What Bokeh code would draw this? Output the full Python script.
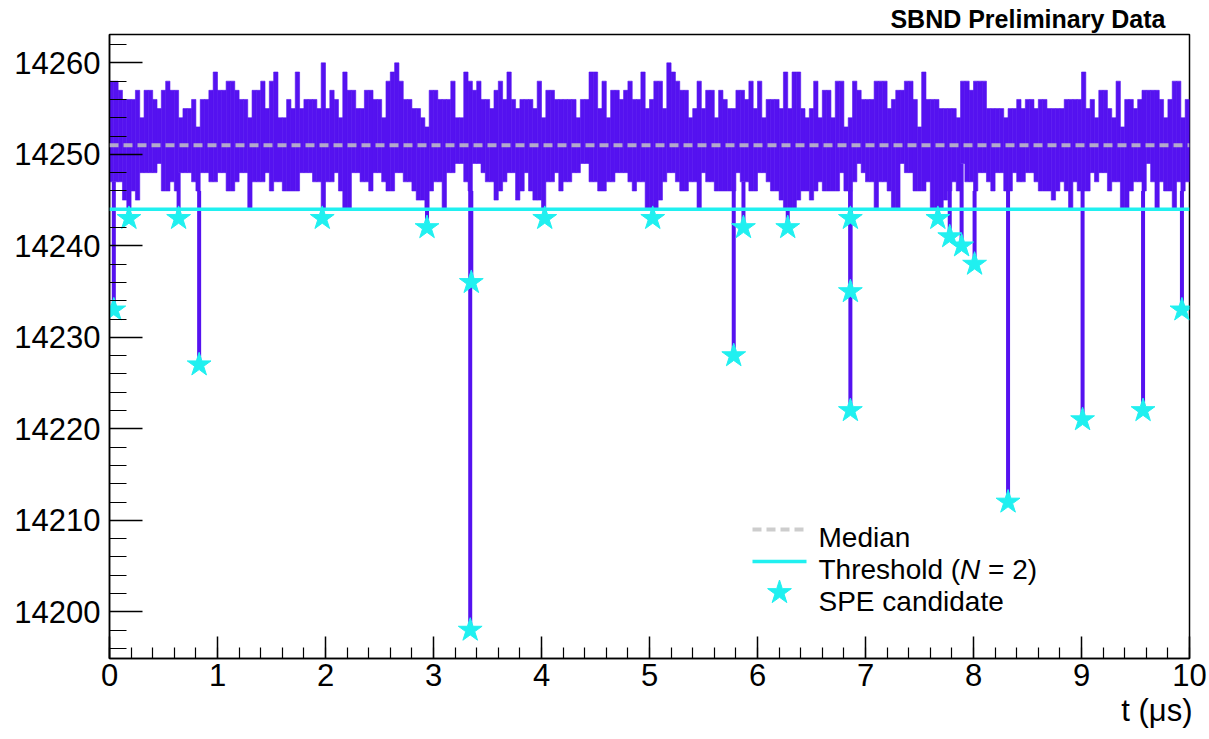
import numpy as np
from bokeh.plotting import figure
from bokeh.models import Range1d, SingleIntervalTicker, Span, Label, ColumnDataSource, Title
from bokeh.embed import file_html
from bokeh.resources import INLINE

# ---------------------------------------------------------------------------
# PMT waveform, 0-10 us, summarised as min/max ADC per 40 ns bin
# ---------------------------------------------------------------------------
BIN_WIDTH_US = 0.04

UPPER_ADC = [
    14258, 14258, 14257, 14256, 14256, 14256, 14257, 14254, 14257, 14257,
    14256, 14255, 14257, 14258, 14257, 14257, 14254, 14255, 14255, 14256,
    14253, 14256, 14256, 14257, 14259, 14257, 14257, 14258, 14258, 14257,
    14256, 14256, 14254, 14257, 14257, 14258, 14255, 14258, 14259, 14254,
    14254, 14256, 14255, 14259, 14255, 14256, 14256, 14256, 14255, 14260,
    14255, 14257, 14256, 14254, 14259, 14257, 14257, 14255, 14255, 14257,
    14257, 14256, 14256, 14254, 14258, 14259, 14260, 14258, 14256, 14256,
    14255, 14255, 14254, 14253, 14257, 14257, 14256, 14256, 14256, 14258,
    14254, 14254, 14259,
    14258, 14257, 14258, 14256, 14256, 14255, 14257,
    14258, 14256, 14259, 14256, 14255, 14256, 14256, 14256, 14255, 14258,
    14254, 14257, 14257, 14256, 14256, 14256, 14256, 14256, 14254, 14256,
    14256, 14259, 14259, 14255, 14258, 14254, 14257, 14257, 14256, 14257,
    14258, 14256, 14256, 14259, 14255, 14256, 14258, 14258, 14255, 14260,
    14259, 14258, 14257, 14257, 14254, 14255, 14258, 14255, 14257, 14257,
    14254, 14257, 14256, 14255, 14255, 14257, 14257, 14256, 14258, 14255,
    14258, 14254, 14256, 14256, 14256, 14255, 14259, 14255, 14259, 14259,
    14255, 14254, 14255, 14258, 14254, 14257, 14257,
    14254, 14258, 14258,
    14253, 14254, 14258, 14257, 14256, 14256, 14256, 14258, 14258, 14258,
    14255, 14256, 14257, 14257, 14258, 14258, 14256, 14253, 14259, 14256,
    14256, 14256, 14255, 14255, 14255, 14255, 14254, 14258, 14258, 14257,
    14258, 14258, 14258, 14255, 14255, 14255, 14255, 14254, 14255, 14255,
    14256, 14255, 14256, 14256, 14255, 14256, 14256, 14255, 14255, 14255,
    14255, 14256, 14256, 14256, 14256, 14259, 14255, 14256, 14254, 14257,
    14257, 14255, 14254, 14258, 14253, 14256, 14256, 14255, 14256, 14257,
    14257, 14257, 14257, 14256, 14254, 14256, 14258, 14258, 14254, 14256,
]

LOWER_ADC = [
    14247, 14247, 14247, 14245, 14244, 14246, 14245, 14248, 14248, 14248,
    14248, 14249, 14246, 14246, 14247, 14246, 14248, 14248, 14248, 14247,
    14246, 14248, 14248, 14247, 14247, 14248, 14248, 14246, 14246, 14247,
    14248, 14248, 14244, 14247, 14247, 14247, 14248, 14246, 14247, 14247,
    14246, 14246, 14246, 14246, 14248, 14248, 14248, 14247, 14247, 14244,
    14247, 14247, 14248, 14246, 14244, 14244, 14248, 14248, 14247, 14247,
    14246, 14248, 14248, 14247, 14246, 14246, 14248, 14248, 14247, 14247,
    14246, 14245, 14245, 14244, 14246, 14247, 14247, 14244, 14248, 14248,
    14249, 14249, 14247,
    14246, 14249, 14249, 14248, 14247, 14247, 14245,
    14246, 14247, 14248, 14248, 14245, 14246, 14248, 14246, 14245, 14245,
    14244, 14247, 14247, 14248, 14246, 14247, 14247, 14248, 14248, 14249,
    14249, 14247, 14247, 14246, 14246, 14247, 14247, 14248, 14248, 14248,
    14247, 14246, 14247, 14247, 14244, 14244, 14244, 14245, 14247, 14248,
    14248, 14247, 14246, 14246, 14247, 14247, 14244, 14248, 14247, 14247,
    14246, 14246, 14246, 14246, 14246, 14248, 14247, 14247, 14246, 14246,
    14248, 14248, 14247, 14246, 14246, 14245, 14244, 14244, 14244, 14245,
    14246, 14246, 14245, 14246, 14247, 14246, 14246,
    14246, 14246, 14248,
    14246, 14246, 14247, 14249, 14248, 14247, 14247, 14244, 14247, 14247,
    14246, 14244, 14244, 14249, 14248, 14248, 14246, 14246, 14246, 14247,
    14244, 14244, 14244, 14245, 14246, 14247, 14246, 14249, 14247, 14247,
    14246, 14248, 14248, 14247, 14246, 14248, 14248, 14246, 14246, 14248,
    14247, 14247, 14248, 14248, 14247, 14246, 14246, 14246, 14245, 14246,
    14247, 14246, 14244, 14247, 14246, 14246, 14246, 14248, 14247, 14248,
    14248, 14246, 14247, 14247, 14244, 14244, 14246, 14247, 14247, 14246,
    14249, 14247, 14244, 14247, 14246, 14246, 14244, 14247, 14246, 14247,
]

MEDIAN_ADC = 14251
THRESHOLD_ADC = 14244

# single-photoelectron candidates (time in us, ADC value)
SPE_T_US = [0.04, 0.18, 0.64, 0.83, 1.97, 2.94, 3.34, 3.35, 4.03, 5.03, 5.78, 5.87,
            6.28, 6.86, 6.86, 6.86, 7.67, 7.78, 7.89, 8.01, 8.32, 9.01, 9.57, 9.93]
SPE_ADC = [14233, 14243, 14243, 14227, 14243, 14242, 14198, 14236, 14243, 14243, 14228, 14242,
           14242, 14243, 14235, 14222, 14243, 14241, 14240, 14238, 14212, 14221, 14222, 14233]

X_RANGE = (0.0, 10.0)
Y_RANGE = (14194.9, 14263.1)

# ---------------------------------------------------------------------------
# styling
# ---------------------------------------------------------------------------
VIOLET = "#5512f0"
CYAN = "#20f0f0"
MEDIAN_GREY = "#c4c4c4"
FONT = "Liberation Sans"

W, H = 1209, 739
FRAME_L, FRAME_R, FRAME_T, FRAME_B = 109, 20, 34, 81
FRAME_W = W - FRAME_L - FRAME_R
FRAME_H = H - FRAME_T - FRAME_B


def px_x(px):
    return X_RANGE[0] + (px - FRAME_L) / FRAME_W * (X_RANGE[1] - X_RANGE[0])


def px_y(py):
    return Y_RANGE[1] - (py - FRAME_T) / FRAME_H * (Y_RANGE[1] - Y_RANGE[0])


p = figure(width=W, height=H, output_backend="svg", toolbar_location=None,
           x_range=Range1d(*X_RANGE), y_range=Range1d(*Y_RANGE),
           min_border_left=FRAME_L, min_border_right=FRAME_R,
           min_border_top=FRAME_T, min_border_bottom=FRAME_B)
p.background_fill_color = "white"
p.border_fill_color = "white"
p.outline_line_color = "black"
p.outline_line_width = 1.5
p.grid.visible = False

# waveform band
upper = np.array(UPPER_ADC, dtype=float)
lower = np.array(LOWER_ADC, dtype=float)
t_left = BIN_WIDTH_US * np.arange(len(upper))
band = ColumnDataSource(dict(left=t_left, right=t_left + BIN_WIDTH_US, bottom=lower, top=upper))
p.quad(left="left", right="right", bottom="bottom", top="top", source=band,
       fill_color=VIOLET, line_color=VIOLET, line_width=0.6)

# downward pulses reaching each candidate
spe_t = np.array(SPE_T_US)
spe_v = np.array(SPE_ADC, dtype=float)
idx = np.clip((spe_t / BIN_WIDTH_US).astype(int), 0, len(lower) - 1)
p.segment(x0=spe_t, y0=lower[idx], x1=spe_t, y1=spe_v, line_color=VIOLET, line_width=4)

# median and threshold
p.add_layout(Span(location=MEDIAN_ADC, dimension="width", line_color=MEDIAN_GREY,
                  line_alpha=0.85, line_width=4, line_dash="9 5"))
p.add_layout(Span(location=THRESHOLD_ADC, dimension="width", line_color=CYAN,
                  line_width=3.5))

p.scatter(spe_t, spe_v, marker="star", size=25, fill_color=CYAN, line_color=CYAN)

# axes (ticks inside the frame)
xa = p.xaxis[0]
xa.ticker = SingleIntervalTicker(interval=1, num_minor_ticks=5)
xa.axis_line_width = 1.5
xa.major_tick_in, xa.major_tick_out = 22, 0
xa.minor_tick_in, xa.minor_tick_out = 11, 0
xa.major_tick_line_width = 1.5
xa.minor_tick_line_width = 1.2
xa.major_label_text_font = FONT
xa.major_label_text_font_size = "31px"
xa.major_label_text_color = "black"
xa.major_label_standoff = 5

ya = p.yaxis[0]
ya.ticker = SingleIntervalTicker(interval=10, num_minor_ticks=5)
ya.axis_line_width = 1.5
ya.major_tick_in, ya.major_tick_out = 33, 0
ya.minor_tick_in, ya.minor_tick_out = 17, 0
ya.major_tick_line_width = 1.5
ya.minor_tick_line_width = 1.2
ya.major_label_text_font = FONT
ya.major_label_text_font_size = "31px"
ya.major_label_text_color = "black"
ya.major_label_standoff = 9

# header above the frame, right aligned (offset counts inward from the frame's right edge)
p.add_layout(Title(text="SBND Preliminary Data", align="right", offset=24, standoff=3,
                   text_font=FONT, text_font_size="25px", text_font_style="bold",
                   text_color="black"), "above")

# x axis title below the tick labels, right aligned
p.add_layout(Title(text="t (μs)", align="right", offset=-3, standoff=4,
                   text_font=FONT, text_font_size="31px", text_font_style="normal",
                   text_color="black"), "below")

# legend
KEY_X0, KEY_X1, TEXT_X = 752, 806, 818
ROW_KEY_Y = [529, 561, 592]
ROW_BASE_Y = [537, 569, 601]
LEG_FS = 28

p.segment(x0=[px_x(KEY_X0)], y0=[px_y(ROW_KEY_Y[0])], x1=[px_x(KEY_X1)], y1=[px_y(ROW_KEY_Y[0])],
          line_color=MEDIAN_GREY, line_alpha=0.85, line_width=4, line_dash="9 5")
p.segment(x0=[px_x(KEY_X0)], y0=[px_y(ROW_KEY_Y[1])], x1=[px_x(KEY_X1)], y1=[px_y(ROW_KEY_Y[1])],
          line_color=CYAN, line_width=3.5)
p.scatter([px_x((KEY_X0 + KEY_X1) / 2)], [px_y(ROW_KEY_Y[2])], marker="star", size=25,
          fill_color=CYAN, line_color=CYAN)


def leg_text(x_px, row, text, style="normal"):
    p.add_layout(Label(x=px_x(x_px), y=px_y(ROW_BASE_Y[row]), text=text, text_align="left",
                       text_baseline="alphabetic", text_font=FONT,
                       text_font_size=f"{LEG_FS}px", text_font_style=style,
                       text_color="black"))


leg_text(TEXT_X, 0, "Median")
n_x = TEXT_X + 5.057 * LEG_FS
leg_text(TEXT_X, 1, "Threshold (")
leg_text(n_x, 1, "N", "italic")
leg_text(n_x + (0.722 + 0.278) * LEG_FS, 1, "= 2)")
leg_text(TEXT_X, 2, "SPE candidate")

open("out.html", "w").write(file_html(p, INLINE))
